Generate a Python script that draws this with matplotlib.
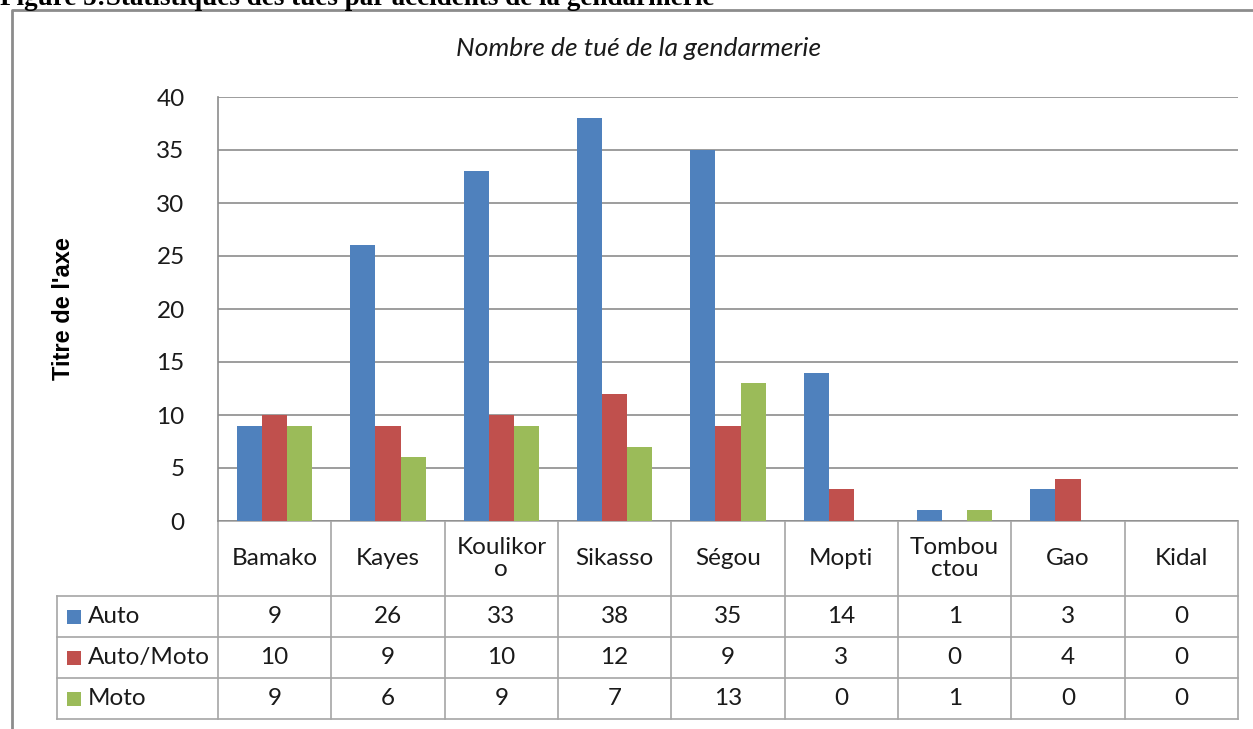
import matplotlib.pyplot as plt
import numpy as np


# =========================
# DONNEES
# =========================
CATEGORIES = ["Bamako", "Kayes", "Koulikor\no", "Sikasso", "Ségou",
              "Mopti", "Tombou\nctou", "Gao", "Kidal"]
SERIES = ["Auto", "Auto/Moto", "Moto"]
AUTO = [9, 26, 33, 38, 35, 14, 1, 3, 0]
AUTO_MOTO = [10, 9, 10, 12, 9, 3, 0, 4, 0]
MOTO = [9, 6, 9, 7, 13, 0, 1, 0, 0]
Y_TICKS = [0, 5, 10, 15, 20, 25, 30, 35, 40]

COLORS = ["#4F81BD", "#C0504D", "#9BBB59"]
GRID = "#8C8C8C"
CELL = "#A6A6A6"

# =========================
# MISE EN PAGE (pixels)
# =========================
W, H = 1253, 729
PLOT_L, PLOT_R = 218, 1238
PLOT_T, PLOT_B = 97, 521
HEAD_B = 596
ROW_H = 41
TAB_L = 57
FONT = "Lato"
FS = 17.5


def main() -> None:
    values = [AUTO, AUTO_MOTO, MOTO]
    n = len(CATEGORIES)

    fig = plt.figure(figsize=(W / 100, H / 100), dpi=100)

    # axe de fond pour le tableau et le cadre
    bg = fig.add_axes([0, 0, 1, 1])
    bg.set_xlim(0, W)
    bg.set_ylim(H, 0)
    bg.axis("off")

    ax = fig.add_axes([PLOT_L / W, 1 - PLOT_B / H,
                       (PLOT_R - PLOT_L) / W, (PLOT_B - PLOT_T) / H])
    ax.set_facecolor("none")

    x = np.arange(n) + 0.5
    width = 0.221
    for k, (vals, color) in enumerate(zip(values, COLORS)):
        ax.bar(x + (k - 1) * width, vals, width=width, color=color,
               linewidth=0, zorder=3)

    ax.set_xlim(0, n)
    ax.set_ylim(0, 40)
    ax.set_yticks(Y_TICKS)
    ax.set_yticklabels([str(t) for t in Y_TICKS], fontsize=FS, family=FONT,
                       color="#1a1a1a")
    ax.tick_params(axis="y", length=0, pad=24)
    ax.set_xticks([])
    ax.yaxis.grid(True, color=GRID, linewidth=1.2, zorder=0)
    for side in ["top", "right", "bottom"]:
        ax.spines[side].set_visible(False)
    ax.spines["left"].set_color(GRID)
    ax.spines["left"].set_linewidth(1.2)

    # titre et axe
    fig.text(639 / W, 1 - 48 / H, "Nombre de tué de la gendarmerie",
             ha="center", va="center", fontsize=19, family=FONT,
             style="italic", color="#1a1a1a")
    fig.text(64 / W, 1 - 309 / H, "Titre de l'axe", rotation=90,
             ha="center", va="center", fontsize=17, weight="bold",
             family=["Liberation Sans", "DejaVu Sans"])
    fig.text(0, 1 - 5 / H,
             "Figure 5:Statistiques des tués par accidents de la gendarmerie",
             ha="left", va="baseline", fontsize=19.5, weight="bold",
             family="Liberation Serif")

    # cadre exterieur
    bg.plot([12, 12, W + 5], [H + 5, 10, 10], color="#8C8C8C",
            linewidth=2, solid_capstyle="butt")

    # tableau de donnees
    col_w = (PLOT_R - PLOT_L) / n
    tab_b = HEAD_B + ROW_H * len(SERIES)
    for i in range(n + 1):
        cx = PLOT_L + i * col_w
        bg.plot([cx, cx], [PLOT_B, tab_b], color=CELL, linewidth=1.2)
    bg.plot([PLOT_L, PLOT_R], [PLOT_B, PLOT_B], color=CELL, linewidth=1.2)
    for r in range(len(SERIES) + 1):
        ry = HEAD_B + r * ROW_H
        bg.plot([TAB_L, PLOT_R], [ry, ry], color=CELL, linewidth=1.2)
    bg.plot([TAB_L, TAB_L], [HEAD_B, tab_b], color=CELL, linewidth=1.2)

    for i, cat in enumerate(CATEGORIES):
        cx = PLOT_L + (i + 0.5) * col_w
        bg.text(cx, (PLOT_B + HEAD_B) / 2, cat, ha="center", va="center",
                fontsize=FS, family=FONT, color="#1a1a1a", linespacing=1.1)

    for r, (name, vals, color) in enumerate(zip(SERIES, values, COLORS)):
        cy = HEAD_B + (r + 0.5) * ROW_H
        bg.add_patch(plt.Rectangle((67, cy - 7), 14, 14, color=color,
                                   linewidth=0))
        bg.text(88, cy, name, ha="left", va="center", fontsize=FS,
                family=FONT, color="#1a1a1a")
        for i, v in enumerate(vals):
            cx = PLOT_L + (i + 0.5) * col_w
            bg.text(cx, cy, str(v), ha="center", va="center", fontsize=FS,
                    family=FONT, color="#1a1a1a")

    fig.savefig("out.png", dpi=100)


if __name__ == "__main__":
    main()
